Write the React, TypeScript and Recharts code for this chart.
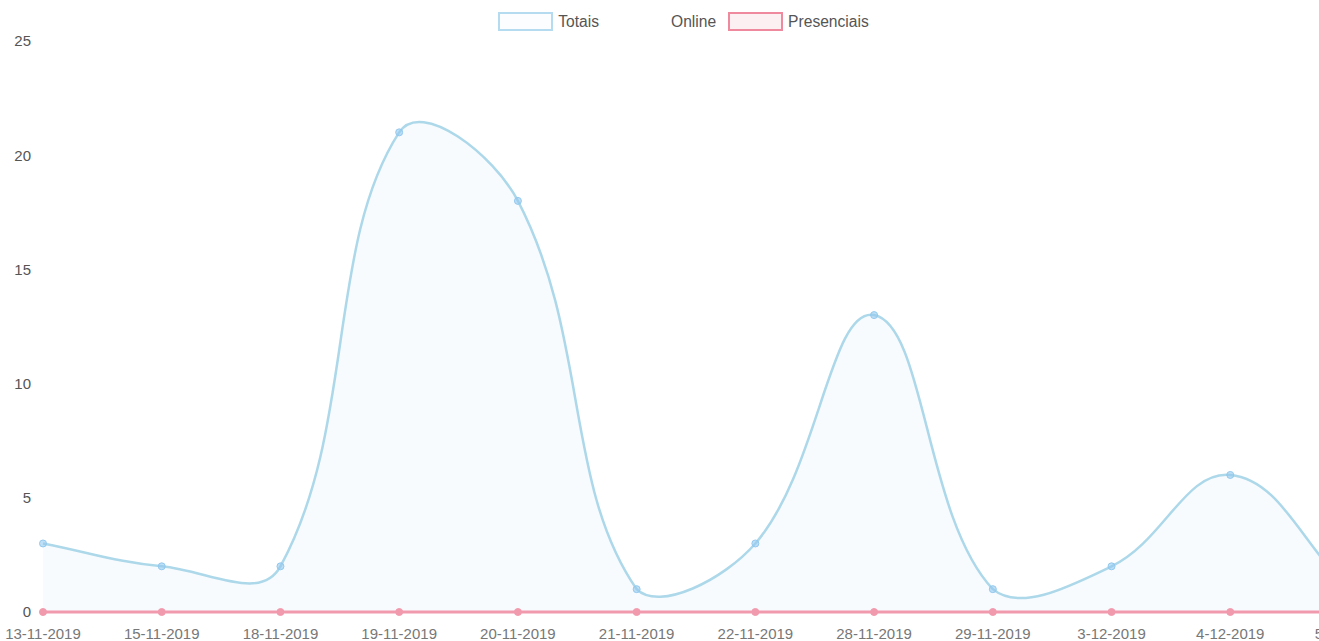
import React from 'react';
import { ComposedChart, Area, Line, XAxis, YAxis } from 'recharts';

const labels = [
  '13-11-2019', '15-11-2019', '18-11-2019', '19-11-2019', '20-11-2019', '21-11-2019',
  '22-11-2019', '28-11-2019', '29-11-2019', '3-12-2019', '4-12-2019', '5-12-2019',
];
const totais = [3, 2, 2, 21, 18, 1, 3, 13, 1, 2, 6, 1];
const online = [0, 0, 0, 0, 0, 0, 0, 0, 0, 0, 0, 0];
const presenciais = [0, 0, 0, 0, 0, 0, 0, 0, 0, 0, 0, 0];
const yTicks = [0, 5, 10, 15, 20, 25];

const chartData = labels.map((day, i) => ({
  day,
  totais: totais[i],
  online: online[i],
  presenciais: presenciais[i],
}));

const CHART_W = 1395;
const CHART_H = 660;
const Y_W = 43;
const X_H = 30;
const margin = { top: 41, right: 46, bottom: 18, left: 0 };
const plotBox = {
  left: margin.left + Y_W,
  right: CHART_W - margin.right,
  top: margin.top,
  bottom: CHART_H - margin.bottom - X_H,
};

const FONT = '"Liberation Sans", Arial, Helvetica, sans-serif';

// chart.js style bezier spline (tension + control points capped to the plot area)
function splineCurve(tension: number, box: typeof plotBox) {
  const cap = (v: number, lo: number, hi: number) => Math.max(lo, Math.min(hi, v));
  return (context: any) => {
    let pts: number[][] = [];
    let line = NaN;
    return {
      areaStart() { line = 0; },
      areaEnd() { line = NaN; },
      lineStart() { pts = []; },
      lineEnd() {
        const n = pts.length;
        if (n > 0) {
          if (line) context.lineTo(pts[0][0], pts[0][1]);
          else context.moveTo(pts[0][0], pts[0][1]);
          const ctrl = pts.map((p, i) => {
            const prev = pts[i - 1] || p;
            const next = pts[i + 1] || p;
            const d01 = Math.hypot(p[0] - prev[0], p[1] - prev[1]);
            const d12 = Math.hypot(next[0] - p[0], next[1] - p[1]);
            let s01 = d01 / (d01 + d12);
            let s12 = d12 / (d01 + d12);
            if (isNaN(s01)) s01 = 0;
            if (isNaN(s12)) s12 = 0;
            const fa = tension * s01;
            const fb = tension * s12;
            const dx = next[0] - prev[0];
            const dy = next[1] - prev[1];
            return {
              px: cap(p[0] - fa * dx, box.left, box.right),
              py: cap(p[1] - fa * dy, box.top, box.bottom),
              nx: cap(p[0] + fb * dx, box.left, box.right),
              ny: cap(p[1] + fb * dy, box.top, box.bottom),
            };
          });
          for (let i = 1; i < n; i++) {
            context.bezierCurveTo(ctrl[i - 1].nx, ctrl[i - 1].ny, ctrl[i].px, ctrl[i].py, pts[i][0], pts[i][1]);
          }
        }
        if (line || (line !== 0 && n === 1)) context.closePath();
        line = 1 - line;
      },
      point(x: number, y: number) { pts.push([+x, +y]); },
    };
  };
}

const curve = splineCurve(0.4, plotBox) as any;

const legendItems = [
  { label: 'Totais', border: '#b5dbf1', fill: '#fbfdff' },
  { label: 'Online', border: 'transparent', fill: 'transparent' },
  { label: 'Presenciais', border: '#ef8a9e', fill: '#fdf0f3' },
];

function ChartLegend() {
  return (
    <div
      style={{
        position: 'absolute',
        top: 12,
        left: 0,
        width: 1379,
        display: 'flex',
        justifyContent: 'center',
        fontFamily: FONT,
        fontSize: 15.6,
        color: '#555',
      }}
    >
      {legendItems.map((item) => (
        <div key={item.label} style={{ display: 'flex', alignItems: 'center', marginRight: 12 }}>
          <span
            style={{
              display: 'inline-block',
              width: 51,
              height: 15,
              border: `2px solid ${item.border}`,
              background: item.fill,
              marginRight: 5,
            }}
          />
          <span>{item.label}</span>
        </div>
      ))}
    </div>
  );
}

export default function App() {
  return (
    <div
      style={{
        position: 'absolute',
        top: 0,
        left: 0,
        width: 1319,
        height: 641,
        overflow: 'hidden',
        background: '#fff',
      }}
    >
      <ChartLegend />
      <ComposedChart width={CHART_W} height={CHART_H} data={chartData} margin={margin}>
        <XAxis
          dataKey="day"
          interval={0}
          height={X_H}
          axisLine={false}
          tickLine={false}
          tickMargin={10}
          tick={{ fill: '#777', fontSize: 15, fontFamily: FONT }}
        />
        <YAxis
          domain={[0, 25]}
          ticks={yTicks}
          width={Y_W}
          axisLine={false}
          tickLine={false}
          tickMargin={6}
          tick={{ fill: '#555', fontSize: 15, fontFamily: FONT }}
        />
        <Line
          dataKey="presenciais"
          type={curve}
          stroke="#f29aad"
          strokeWidth={3}
          dot={{ r: 3.5, fill: '#f29aad', stroke: '#f29aad', strokeWidth: 1 }}
          activeDot={false}
          isAnimationActive={false}
        />
        <Line
          dataKey="online"
          type={curve}
          stroke="transparent"
          dot={false}
          activeDot={false}
          isAnimationActive={false}
        />
        <Area
          dataKey="totais"
          type={curve}
          stroke="#acd8ea"
          strokeWidth={2.5}
          fill="#f3f9fd"
          fillOpacity={0.6}
          dot={{ r: 3.5, fill: '#93c9ef', stroke: '#93c9ef', strokeWidth: 1 }}
          activeDot={false}
          isAnimationActive={false}
        />
      </ComposedChart>
    </div>
  );
}
